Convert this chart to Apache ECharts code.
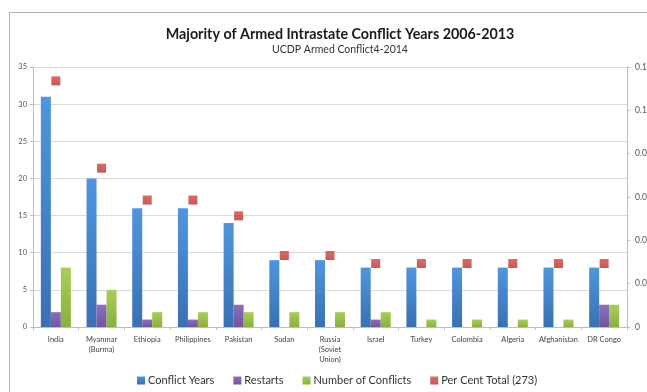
<!DOCTYPE html>
<html>
<head>
<meta charset="utf-8">
<style>
  html, body { margin: 0; padding: 0; background: #fff; }
  #chart { width: 647px; height: 392px; position: relative; }
  #frame { position: absolute; left: 9px; top: 12px; width: 700px; height: 400px;
           border-left: 1px solid #b4b4b4; border-top: 1px solid #b4b4b4; pointer-events: none; }
</style>
<script src="https://cdn.jsdelivr.net/npm/echarts@6/dist/echarts.min.js"></script>
</head>
<body>
<div id="chart"></div>
<div id="frame" style="position:absolute;"></div>
<script>
// Countries with the most armed intrastate conflict years, 2006-2013
const countries = ['India', 'Myanmar\n(Burma)', 'Ethiopia', 'Philippines', 'Pakistan', 'Sudan',
  'Russia\n(Soviet\nUnion)', 'Israel', 'Turkey', 'Colombia', 'Algeria', 'Afghanistan', 'DR Congo'];
const conflictYears = [31, 20, 16, 16, 14, 9, 9, 8, 8, 8, 8, 8, 8];
const restarts = [2, 3, 1, 1, 3, 0, 0, 1, 0, 0, 0, 0, 3];
const numberOfConflicts = [8, 5, 2, 2, 2, 2, 2, 2, 1, 1, 1, 1, 3];
const perCentTotal = [0.1136, 0.0733, 0.0586, 0.0586, 0.0513, 0.033, 0.033,
  0.0293, 0.0293, 0.0293, 0.0293, 0.0293, 0.0293];
const leftTicks = { min: 0, max: 35, interval: 5 };
const rightTicks = { min: 0, max: 0.12, interval: 0.02 };

const FONT = 'Lato, "Open Sans", sans-serif';

function vgrad(top, bottom) {
  return new echarts.graphic.LinearGradient(0, 0, 0, 1, [
    { offset: 0, color: top }, { offset: 1, color: bottom }
  ]);
}
const blue = vgrad('#4f96de', '#3a70b2');
const purple = vgrad('#8d6fbd', '#6f559c');
const green = vgrad('#a9cf58', '#8bae3f');
const red = vgrad('#d6443c', '#b8302a');

const chart = echarts.init(document.getElementById('chart'), null, { renderer: 'canvas' });

chart.setOption({
  animation: false,
  backgroundColor: '#fff',
  textStyle: { fontFamily: FONT },
  title: {
    text: 'Majority of Armed Intrastate Conflict Years 2006-2013',
    subtext: 'UCDP Armed Conflict4-2014',
    left: 335, textAlign: 'center', top: 22, itemGap: 3,
    textStyle: { fontFamily: FONT, fontSize: 14.3, fontWeight: 'bold', color: '#1a1a1a' },
    subtextStyle: { fontFamily: FONT, fontSize: 10.5, color: '#333' }
  },
  legend: {
    bottom: 1, left: 132,
    itemWidth: 8, itemHeight: 8, itemGap: 19,
    icon: 'rect',
    textStyle: { fontFamily: FONT, fontSize: 11, color: '#333', padding: [0, 0, 0, -2] },
    data: ['Conflict Years', 'Restarts', 'Number of Conflicts', 'Per Cent Total (273)']
  },
  grid: { left: 33, right: 20, top: 67, bottom: 65, containLabel: false, outerBoundsMode: 'none' },
  xAxis: {
    type: 'category',
    data: countries,
    axisLine: { lineStyle: { color: '#bdbdbd' } },
    axisTick: { show: true, length: 3, lineStyle: { color: '#bdbdbd' } },
    axisLabel: { interval: 0, fontSize: 7.5, color: '#444', lineHeight: 10, margin: 8, fontFamily: FONT }
  },
  yAxis: [
    {
      type: 'value', ...leftTicks,
      axisLine: { show: true, lineStyle: { color: '#bdbdbd' } },
      axisTick: { show: true, length: 3, lineStyle: { color: '#bdbdbd' } },
      axisLabel: { fontSize: 7.5, color: '#555', margin: 6, fontFamily: FONT },
      splitLine: { lineStyle: { color: '#dcdcdc' } }
    },
    {
      type: 'value', ...rightTicks,
      position: 'right',
      axisLine: { show: true, lineStyle: { color: '#bdbdbd' } },
      axisTick: { show: true, length: 3, lineStyle: { color: '#bdbdbd' } },
      axisLabel: { fontSize: 8.5, color: '#555', margin: 8, fontFamily: FONT },
      splitLine: { show: false }
    }
  ],
  series: [
    {
      name: 'Conflict Years', type: 'bar', data: conflictYears, color: '#4a8bd4',
      barWidth: 10, barGap: '0%', itemStyle: { color: blue }
    },
    {
      name: 'Restarts', type: 'bar', data: restarts, color: '#7f62ad',
      barWidth: 10, barGap: '0%', itemStyle: { color: purple }
    },
    {
      name: 'Number of Conflicts', type: 'bar', data: numberOfConflicts, color: '#9dc24b',
      barWidth: 10, barGap: '0%', itemStyle: { color: green }
    },
    {
      name: 'Per Cent Total (273)', type: 'scatter', yAxisIndex: 1, data: perCentTotal, color: '#c8403a',
      symbol: 'rect', symbolSize: 9,
      itemStyle: { color: red }
    }
  ]
});
</script>
</body>
</html>
